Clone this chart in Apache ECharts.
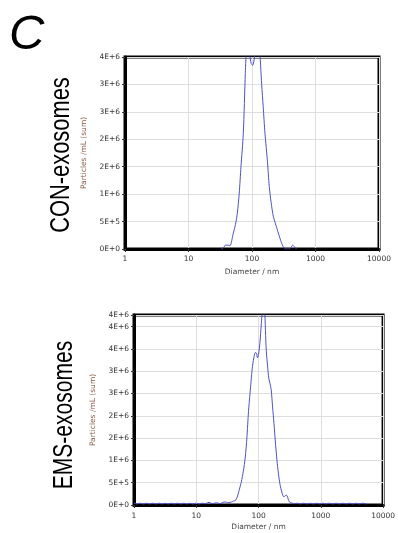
<!DOCTYPE html>
<html>
<head>
<meta charset="utf-8">
<script src="https://cdn.jsdelivr.net/npm/echarts@6/dist/echarts.min.js"></script>
<style>
html,body{margin:0;padding:0;background:#fff;}
#chart{width:398px;height:533px;}
</style>
</head>
<body>
<div id="chart"></div>
<script>
// ---- data ----
var xTickValues = [1, 10, 100, 1000, 10000];

var conDiam = [33, 36, 38, 42, 45, 50.8, 55, 58.7, 63, 67, 73, 78.5, 82, 86, 92, 97, 102.6, 108, 116, 123, 131, 142, 150, 160, 175, 187, 200, 217, 240, 260, 290, 311, 343, 380, 410, 437, 465, 505];
var conVal  = [0, 3e4, 7e4, 7e4, 6e4, 2.9e5, 4.5e5, 6.5e5, 1.02e6, 1.5e6, 2.11e6, 3.2e6, 3.7e6, 3.95e6, 3.55e6, 3.38e6, 3.35e6, 3.45e6, 3.8e6, 3.95e6, 3.7e6, 3.0e6, 2.6e6, 2.11e6, 1.6e6, 1.14e6, 8.5e5, 5.9e5, 4.2e5, 2.9e5, 1.2e5, 4e4, 0, 0, 3e4, 7e4, 4e4, 0];
var conYTicks  = [0, 5e5, 1e6, 1.5e6, 2e6, 2.5e6, 3e6, 3.5e6];
var conYLabels = ['0E+0', '5E+5', '1E+6', '2E+6', '2E+6', '3E+6', '3E+6', '4E+6'];

var emsDiam = [1, 1.12, 1.26, 1.41, 1.58, 1.78, 2, 2.24, 2.51, 2.82, 3.16, 3.55, 3.98, 4.47, 5.01, 5.62, 6.31, 7.08, 7.94, 8.91, 10, 11.2, 12.6, 14, 16, 18, 21, 24, 27, 29, 32, 35, 37, 40, 43, 46, 49, 53, 57, 61, 65, 69, 73, 79, 84, 89, 93, 96, 100, 105, 111, 116, 121, 126, 130, 133, 140, 146, 153, 160, 168, 177, 188, 200, 212, 225, 245, 256, 267, 278, 287, 300, 313, 330, 352, 380, 420, 470, 530, 600, 680, 760, 860, 960, 1080, 1220, 1380, 1560, 1760, 2000, 2250, 2550, 2880, 3250, 3680, 4150, 4700, 5420];
var emsVal  = [4e4, 2.5e4, 4e4, 2.5e4, 4e4, 2.5e4, 4e4, 2.5e4, 4e4, 2.5e4, 4e4, 2.5e4, 4e4, 2.5e4, 4e4, 2.5e4, 4e4, 2.5e4, 4e4, 2.5e4, 4e4, 2.5e4, 4e4, 3e4, 6e4, 3e4, 5e4, 3e4, 6e4, 7e4, 5e4, 6e4, 7e4, 9e4, 1.1e5, 2e5, 3.4e5, 5.2e5, 7.6e5, 1.05e6, 1.5e6, 2.1e6, 2.5e6, 3.05e6, 3.3e6, 3.42e6, 3.4e6, 3.3e6, 3.38e6, 3.62e6, 4.07e6, 4.4e6, 4.5e6, 4.3e6, 3.8e6, 3.47e6, 3.1e6, 2.84e6, 2.72e6, 2.58e6, 2.2e6, 1.83e6, 1.35e6, 9.3e5, 6.3e5, 4.1e5, 2.2e5, 1.8e5, 2.1e5, 2.2e5, 2.1e5, 1.3e5, 7e4, 5e4, 4e4, 3e4, 4e4, 2.5e4, 4e4, 2.5e4, 4e4, 2.5e4, 4e4, 2.5e4, 4e4, 2.5e4, 4e4, 2.5e4, 4e4, 2.5e4, 4e4, 2.5e4, 4e4, 2.5e4, 4e4, 2.5e4, 4e4, 2.5e4];
var emsYTicks  = [0, 5e5, 1e6, 1.5e6, 2e6, 2.5e6, 3e6, 3.5e6, 4e6, 4.26e6];
var emsYLabels = ['0E+0', '5E+5', '1E+6', '2E+6', '2E+6', '3E+6', '3E+6', '4E+6', '4E+6', '4E+6'];

var panelLetter = 'C';
var conTitle = 'CON-exosomes';
var emsTitle = 'EMS-exosomes';
var xName = 'Diameter / nm';
var yName = 'Particles /mL (sum)';

// ---- build ----
function pairs(xs, ys) { return xs.map(function (x, i) { return [x, ys[i]]; }); }
function labelFrom(ticks, labels) {
  return function (v) {
    var best = 0, bd = Infinity;
    for (var i = 0; i < ticks.length; i++) { var d = Math.abs(ticks[i] - v); if (d < bd) { bd = d; best = i; } }
    return labels[best];
  };
}

var tickFont = { fontFamily: 'DejaVu Sans', fontSize: 7.5, color: '#333' };

function xAxis(gi, labelMargin, nameGap) {
  return {
    type: 'log', logBase: 10, gridIndex: gi, min: 1, max: 10000,
    name: xName, nameLocation: 'middle', nameGap: nameGap,
    nameTextStyle: { fontFamily: 'DejaVu Sans', fontSize: 7.5, color: '#444' },
    axisLine: { show: true, lineStyle: { color: '#000', width: 3 } },
    axisTick: { show: true, length: 3, lineStyle: { color: '#333', width: 1 } },
    axisLabel: Object.assign({ margin: labelMargin, formatter: function (v) { return String(Math.round(v)); } }, tickFont),
    splitLine: { show: true, lineStyle: { color: '#dedede', width: 1 } },
    minorTick: { show: false }
  };
}
function yAxis(gi, max, ticks, labels) {
  return {
    type: 'value', gridIndex: gi, min: 0, max: max, interval: 5e5,
    name: yName, nameLocation: 'middle', nameRotate: 90, nameGap: 28,
    nameTextStyle: { fontFamily: 'DejaVu Sans', fontSize: 7.5, color: '#8a5a44' },
    axisLine: { show: true, lineStyle: { color: '#000', width: 3 } },
    axisTick: { show: true, length: 3, lineStyle: { color: '#333', width: 1 } },
    axisLabel: Object.assign({ margin: 5, formatter: labelFrom(ticks, labels), showMaxLabel: true }, tickFont),
    splitLine: { show: true, lineStyle: { color: '#dedede', width: 1 } }
  };
}

var chart = echarts.init(document.getElementById('chart'), null, { renderer: 'canvas' });
chart.setOption({
  animation: false,
  backgroundColor: '#fff',
  grid: [
    { left: 125, top: 57, width: 254, height: 192, show: true, borderColor: '#000', borderWidth: 3, backgroundColor: 'transparent' },
    { left: 134, top: 315, width: 253, height: 190, show: true, borderColor: '#000', borderWidth: 3, backgroundColor: 'transparent' }
  ],
  xAxis: [xAxis(0, 6, 19), xAxis(1, 7, 18)],
  yAxis: [yAxis(0, 3.5e6, conYTicks, conYLabels), yAxis(1, 4.26e6, emsYTicks, emsYLabels)],
  series: [
    { type: 'line', xAxisIndex: 0, yAxisIndex: 0, data: pairs(conDiam, conVal), showSymbol: false, smooth: 0.25, clip: true,
      lineStyle: { color: '#5050c8', width: 1 } },
    { type: 'line', xAxisIndex: 1, yAxisIndex: 1, data: pairs(emsDiam, emsVal), showSymbol: false, smooth: 0.25, clip: true,
      lineStyle: { color: '#5050c8', width: 1 } }
  ],
  graphic: [
    { type: 'text', x: 9, y: 35, style: { text: panelLetter, fontFamily: 'Liberation Sans', fontStyle: 'italic', fontSize: 49, fill: '#000', textAlign: 'left', textVerticalAlign: 'middle' } },
    { type: 'text', x: 62, y: 155, rotation: Math.PI / 2, scaleX: 0.81, style: { text: conTitle, fontFamily: 'Liberation Sans', fontSize: 27, fill: '#000', textAlign: 'center', textVerticalAlign: 'middle' } },
    { type: 'text', x: 65, y: 415, rotation: Math.PI / 2, scaleX: 0.78, style: { text: emsTitle, fontFamily: 'Liberation Sans', fontSize: 27, fill: '#000', textAlign: 'center', textVerticalAlign: 'middle' } }
  ]
});
</script>
</body>
</html>
